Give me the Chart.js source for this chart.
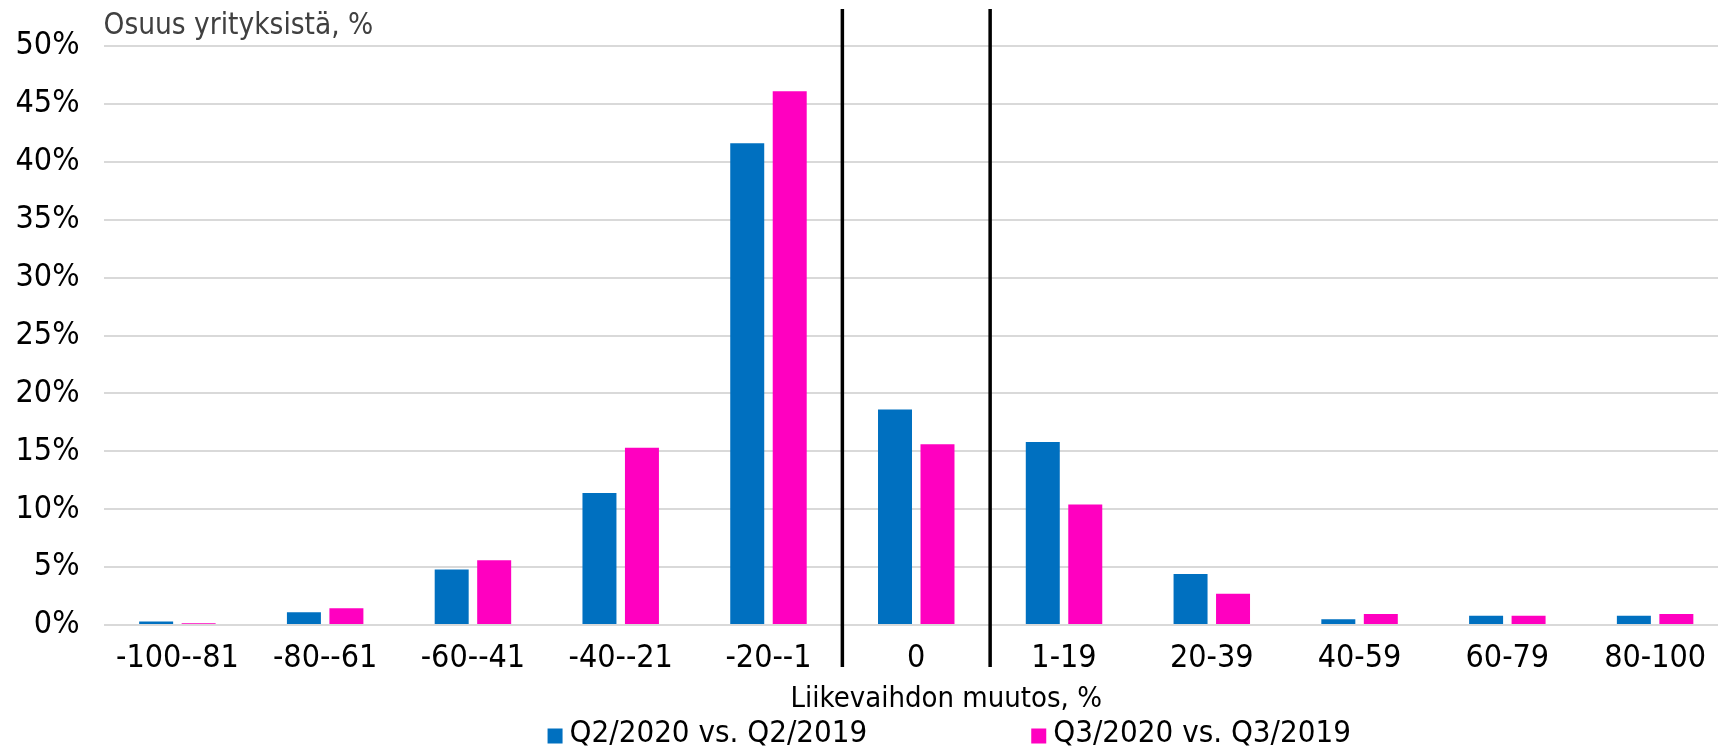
<!DOCTYPE html>
<html>
<head>
<meta charset="utf-8">
<script src="https://cdn.jsdelivr.net/npm/chart.js@4.4.1/dist/chart.umd.min.js"></script>
<style>
html,body{margin:0;padding:0;background:#ffffff;}
canvas{display:block;}
</style>
</head>
<body>
<canvas id="c" width="1718" height="749"></canvas>
<script>
// ---- data ----
const categories = ['-100--81','-80--61','-60--41','-40--21','-20--1','0','1-19','20-39','40-59','60-79','80-100'];
const seriesQ2 = [0.3, 1.1, 4.8, 11.4, 41.6, 18.6, 15.8, 4.4, 0.5, 0.8, 0.8];
const seriesQ3 = [0.15, 1.45, 5.6, 15.3, 46.1, 15.6, 10.4, 2.7, 0.95, 0.8, 0.95];
const seriesLabels = ['Q2/2020 vs. Q2/2019', 'Q3/2020 vs. Q3/2019'];
const yTickValues = [0, 5, 10, 15, 20, 25, 30, 35, 40, 45, 50];
const yAxisTitle = 'Osuus yrityksistä, %';
const xAxisTitle = 'Liikevaihdon muutos, %';
const dividerAfterIndex = [4, 5];

// ---- styling ----
const FONT = '"DejaVu Sans Condensed", "DejaVu Sans", sans-serif';
const COLORS = ['#0070C0', '#FF00C0'];
const PLOT_OVERHANG = 11; // plot area continues past the right edge of the picture

const extras = {
  id: 'extras',
  afterLayout(chart) {
    const ca = chart.chartArea;
    const x = chart.scales.x;
    const newRight = chart.width + PLOT_OVERHANG;
    ca.right = newRight;
    ca.width = ca.right - ca.left;
    x.right = newRight;
    x.width = x.right - x.left;
    x.configure();
  },
  afterDraw(chart) {
    const {ctx, chartArea: ca, scales: {x}} = chart;
    ctx.save();
    // divider lines
    ctx.strokeStyle = '#000000';
    ctx.lineWidth = 3.5;
    dividerAfterIndex.forEach(i => {
      const px = (x.getPixelForValue(i) + x.getPixelForValue(i + 1)) / 2;
      ctx.beginPath();
      ctx.moveTo(px, ca.top - 37);
      ctx.lineTo(px, ca.bottom + 42);
      ctx.stroke();
    });
    // y axis title (top-left)
    ctx.fillStyle = '#404040';
    ctx.font = '29.5px ' + FONT;
    ctx.textAlign = 'left';
    ctx.textBaseline = 'middle';
    ctx.fillText(yAxisTitle, ca.left, ca.top - 20);
    // x axis title
    const cx = (ca.left + ca.right) / 2;
    ctx.fillStyle = '#000000';
    ctx.font = '29px ' + FONT;
    ctx.textAlign = 'center';
    ctx.fillText(xAxisTitle, cx + 30, ca.bottom + 74);
    // legend
    ctx.font = '31px ' + FONT;
    const box = 15, gapBoxText = 7, gapItems = 164;
    const widths = seriesLabels.map(t => ctx.measureText(t).width);
    const total = widths.reduce((a, w) => a + box + gapBoxText + w, 0) + gapItems * (seriesLabels.length - 1);
    let lx = cx + 33 - total / 2;
    const ly = ca.bottom + 109;
    ctx.textAlign = 'left';
    chart.data.datasets.forEach((ds, i) => {
      ctx.fillStyle = ds.backgroundColor;
      ctx.fillRect(lx, ly - box / 2 + 2, box, box);
      lx += box + gapBoxText;
      ctx.fillStyle = '#000000';
      ctx.fillText(ds.label, lx, ly);
      lx += widths[i] + gapItems;
    });
    ctx.restore();
  }
};

new Chart(document.getElementById('c'), {
  type: 'bar',
  data: {
    labels: categories,
    datasets: [
      {label: seriesLabels[0], data: seriesQ2, backgroundColor: COLORS[0]},
      {label: seriesLabels[1], data: seriesQ3, backgroundColor: COLORS[1]}
    ]
  },
  options: {
    responsive: false,
    animation: false,
    devicePixelRatio: 1,
    categoryPercentage: 0.575,
    barPercentage: 0.8,
    layout: {padding: {top: 46, right: 0, bottom: 0, left: 0}},
    plugins: {
      legend: {display: false},
      tooltip: {enabled: false},
      title: {display: false}
    },
    scales: {
      x: {
        grid: {display: false, drawTicks: false},
        border: {display: false},
        ticks: {
          color: '#000000',
          font: {family: FONT, size: 32},
          padding: 14,
          maxRotation: 0,
          autoSkip: false
        },
        afterFit(scale) { scale.height = 124; }
      },
      y: {
        min: 0,
        max: 50,
        afterBuildTicks(scale) { scale.ticks = yTickValues.map(v => ({value: v})); },
        grid: {color: '#D9D9D9', lineWidth: 2, drawTicks: false},
        border: {display: false},
        ticks: {
          color: '#000000',
          font: {family: FONT, size: 32},
          padding: 24,
          callback: v => v + '%'
        },
        afterFit(scale) { scale.width = 103.5; }
      }
    }
  },
  plugins: [extras]
});
</script>
</body>
</html>
